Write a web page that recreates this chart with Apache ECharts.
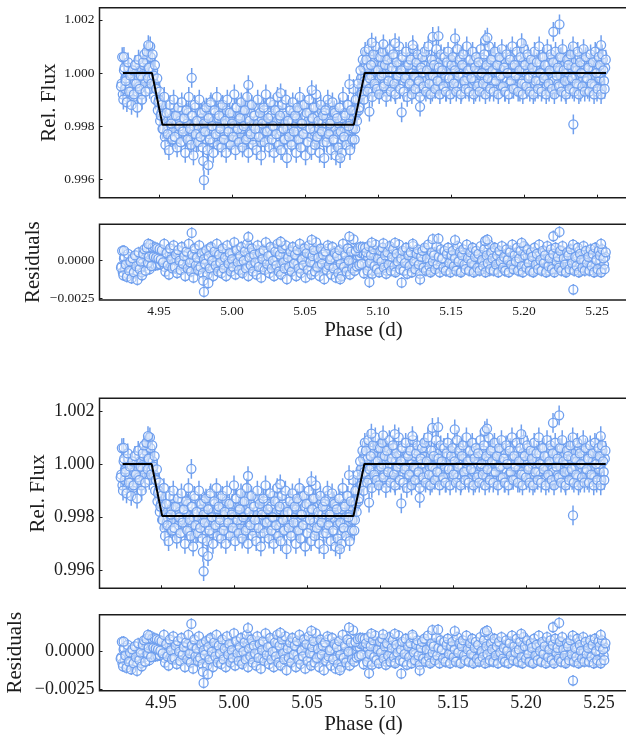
<!DOCTYPE html>
<html><head><meta charset="utf-8">
<style>html,body{margin:0;padding:0;background:#fff}#c{width:626px;height:736px}</style>
<script src="https://cdn.jsdelivr.net/npm/echarts@6/dist/echarts.min.js"></script>
</head><body><div id="c"></div>
<script>
const phase=[
4.9240,4.9248,4.9256,4.9264,4.9272,4.9280,4.9288,4.9296,4.9304,4.9312,
4.9320,4.9328,4.9336,4.9344,4.9352,4.9360,4.9368,4.9376,4.9384,4.9392,
4.9400,4.9408,4.9416,4.9424,4.9432,4.9440,4.9448,
4.9456,4.9464,4.9472,4.9480,4.9488,4.9496,4.9504,4.9512,4.9520,
4.9528,4.9536,4.9544,4.9552,4.9560,4.9568,4.9576,4.9584,4.9592,4.9600,
4.9608,4.9616,4.9624,4.9632,4.9640,4.9648,4.9656,4.9664,4.9672,4.9680,
4.9688,4.9696,4.9704,4.9712,4.9720,4.9728,4.9736,4.9744,4.9752,4.9760,
4.9768,4.9776,4.9784,4.9792,4.9800,4.9808,4.9816,4.9824,4.9832,4.9840,
4.9848,4.9856,4.9864,4.9872,4.9880,4.9888,4.9896,4.9904,4.9912,4.9920,
4.9928,4.9936,4.9944,4.9952,4.9960,4.9968,4.9976,4.9984,4.9992,5.0000,
5.0008,5.0016,5.0024,5.0032,5.0040,5.0048,5.0056,5.0064,5.0072,5.0080,
5.0088,5.0096,5.0104,5.0112,5.0120,5.0128,5.0136,5.0144,5.0152,5.0160,
5.0168,5.0176,5.0184,5.0192,5.0200,5.0208,5.0216,5.0224,5.0232,5.0240,
5.0248,5.0256,5.0264,5.0272,5.0280,5.0288,5.0296,5.0304,5.0312,5.0320,
5.0328,5.0336,5.0344,5.0352,5.0360,5.0368,5.0376,5.0384,5.0392,5.0400,
5.0408,5.0416,5.0424,5.0432,5.0440,5.0448,5.0456,5.0464,5.0472,5.0480,
5.0488,5.0496,5.0504,5.0512,5.0520,5.0528,5.0536,5.0544,5.0552,5.0560,
5.0568,5.0576,5.0584,5.0592,5.0600,5.0608,5.0616,5.0624,5.0632,5.0640,
5.0648,5.0656,5.0664,5.0672,5.0680,5.0688,5.0696,5.0704,5.0712,5.0720,
5.0728,5.0736,5.0744,5.0752,5.0760,5.0768,5.0776,5.0784,5.0792,5.0800,
5.0808,5.0816,5.0824,5.0832,
5.0840,5.0848,5.0856,5.0864,5.0872,5.0880,5.0888,5.0896,5.0904,5.0912,
5.0920,5.0928,5.0936,5.0944,5.0952,5.0960,5.0968,5.0976,5.0984,5.0992,
5.1000,5.1008,5.1016,5.1024,5.1032,5.1040,5.1048,5.1056,5.1064,5.1072,
5.1080,5.1088,5.1096,5.1104,5.1112,5.1120,5.1128,5.1136,5.1144,5.1152,
5.1160,5.1168,5.1176,5.1184,5.1192,5.1200,5.1208,5.1216,5.1224,5.1232,
5.1240,5.1248,5.1256,5.1264,5.1272,5.1280,5.1288,5.1296,5.1304,5.1312,
5.1320,5.1328,5.1336,5.1344,5.1352,5.1360,5.1368,5.1376,5.1384,5.1392,
5.1400,5.1408,5.1416,5.1424,5.1432,5.1440,5.1448,5.1456,5.1464,5.1472,
5.1480,5.1488,5.1496,5.1504,5.1512,5.1520,5.1528,5.1536,5.1544,5.1552,
5.1560,5.1568,5.1576,5.1584,5.1592,5.1600,5.1608,5.1616,5.1624,5.1632,
5.1640,5.1648,5.1656,5.1664,5.1672,5.1680,5.1688,5.1696,5.1704,5.1712,
5.1720,5.1728,5.1736,5.1744,5.1752,5.1760,5.1768,5.1776,5.1784,5.1792,
5.1800,5.1808,5.1816,5.1824,5.1832,5.1840,5.1848,5.1856,5.1864,5.1872,
5.1880,5.1888,5.1896,5.1904,5.1912,5.1920,5.1928,5.1936,5.1944,5.1952,
5.1960,5.1968,5.1976,5.1984,5.1992,5.2000,5.2008,5.2016,5.2024,5.2032,
5.2040,5.2048,5.2056,5.2064,5.2072,5.2080,5.2088,5.2096,5.2104,5.2112,
5.2120,5.2128,5.2136,5.2144,5.2152,5.2160,5.2168,5.2176,5.2184,5.2192,
5.2200,5.2208,5.2216,5.2224,5.2232,5.2240,5.2248,5.2256,5.2264,5.2272,
5.2280,5.2288,5.2296,5.2304,5.2312,5.2320,5.2328,5.2336,5.2344,5.2352,
5.2360,5.2368,5.2376,5.2384,5.2392,5.2400,5.2408,5.2416,5.2424,5.2432,
5.2440,5.2448,5.2456,5.2464,5.2472,5.2480,5.2488,5.2496,5.2504,5.2512,
5.2520,5.2528,5.2536,5.2544,5.2552,5.2560,
4.9724,4.9808,4.9803,4.9838,5.0112,5.0333,5.0546,5.0741,5.0804,5.0941,
5.1162,5.1288,5.1375,5.1414,5.1528,5.1734,5.1749,5.2201,5.2243,5.2338,
4.9427,4.9260,5.0957,5.1037,5.1117,5.1238,5.1984,5.2528
];
const flux=[
.9995,1.0006,.9990,1.0002,.9997,.9989,1.0004,.9993,.9999,.9988,
1.0001,.9992,1.0003,.9996,.9987,1.0005,.9994,.9999,.9990,1.0004,
1.0007,.9993,1.0008,.9998,1.0002,1.0010,.9996,
1.0007,.9999,1.0003,.9994,.9998,.9989,.9993,.9984,.9988,
.9979,.9991,.9973,.9985,.9977,.9971,.9988,.9981,.9975,.9990,
.9976,.9984,.9972,.9987,.9980,.9974,.9989,.9978,.9983,.9970,
.9986,.9975,.9991,.9979,.9973,.9984,.9969,.9988,.9977,.9982,
.9974,.9990,.9976,.9985,.9972,.9981,.9978,.9987,.9971,.9983,
.9975,.9989,.9980,.9970,.9986,.9977,.9991,.9973,.9984,.9979,
.9972,.9988,.9975,.9982,.9970,.9990,.9978,.9985,.9973,.9981,
.9976,.9992,.9971,.9987,.9979,.9974,.9983,.9989,.9972,.9980,
.9986,.9975,.9991,.9970,.9982,.9977,.9988,.9973,.9984,.9979,
.9971,.9990,.9976,.9985,.9969,.9981,.9987,.9974,.9992,.9978,
.9983,.9972,.9989,.9975,.9980,.9970,.9986,.9977,.9991,.9973,
.9984,.9971,.9988,.9979,.9975,.9990,.9968,.9982,.9976,.9986,
.9973,.9989,.9978,.9984,.9970,.9987,.9975,.9991,.9972,.9981,
.9977,.9988,.9969,.9985,.9974,.9990,.9979,.9971,.9983,.9987,
.9973,.9992,.9976,.9982,.9970,.9988,.9978,.9984,.9968,.9986,
.9974,.9990,.9977,.9981,.9971,.9989,.9975,.9985,.9969,.9983,
.9972,.9987,.9978,.9970,.9991,.9976,.9984,.9973,.9988,.9980,
.9971,.9986,.9975,.9994,
.9975,.9990,.9982,.9996,.9987,1.0001,.9992,1.0005,.9990,1.0008,
1.0005,.9993,1.0009,.9998,1.0003,.9991,1.0007,.9996,1.0010,.9994,
1.0001,.9992,1.0006,.9999,1.0008,.9995,1.0003,.9991,1.0005,.9997,
1.0009,.9993,1.0002,1.0007,.9996,.9992,1.0004,.9999,1.0010,.9994,
1.0001,1.0006,.9993,.9998,1.0008,.9991,1.0003,.9996,1.0005,.9992,
1.0009,.9999,.9994,1.0004,1.0007,.9997,.9991,1.0002,1.0006,.9995,
1.0008,.9993,1.0001,1.0010,.9996,.9992,1.0005,.9999,1.0003,.9994,
1.0009,.9997,1.0002,.9992,1.0007,1.0001,.9995,1.0006,.9993,1.0004,
1.0008,.9998,.9992,1.0003,1.0006,.9996,1.0001,.9993,1.0009,.9999,
1.0005,.9992,1.0003,1.0007,.9997,.9994,1.0010,1.0001,.9993,1.0005,
.9998,1.0008,.9992,1.0002,1.0006,.9995,1.0004,.9993,1.0009,1.0000,
.9996,1.0007,.9992,1.0003,.9998,1.0010,.9994,1.0005,1.0001,.9993,
1.0008,.9997,1.0003,.9992,1.0006,.9999,1.0009,.9995,1.0002,.9993,
1.0007,1.0000,.9992,1.0005,.9997,1.0010,.9994,1.0003,.9999,1.0008,
.9993,1.0001,1.0006,.9996,.9992,1.0009,1.0003,.9995,1.0007,.9998,
.9993,1.0005,1.0002,.9992,1.0008,.9997,1.0004,.9994,1.0010,1.0000,
.9993,1.0006,.9998,1.0003,.9992,1.0009,.9996,1.0001,1.0007,.9994,
1.0004,.9992,1.0008,.9999,1.0002,.9995,1.0006,.9993,1.0009,1.0001,
.9997,.9992,1.0005,1.0003,.9994,1.0007,.9998,1.0010,.9993,1.0002,
.9996,1.0008,.9992,1.0004,1.0000,.9995,1.0009,.9993,1.0006,.9998,
1.0002,.9993,1.0007,.9996,1.0004,.9992,1.0008,1.0000,.9994,1.0006,
1.0003,.9992,1.0007,1.0001,.9994,1.0005,
.99982,.99597,.9967,.99654,.99955,.99924,.99936,.9968,.99958,.99855,
.99852,.99873,1.00136,1.00139,1.0013,1.00124,1.00133,1.00155,1.00183,.99807,
1.00105,1.00061,1.00114,1.00108,1.00112,1.00105,1.00112,1.00105
];
const phaseB=[
4.9244,4.9252,4.9260,4.9268,4.9276,4.9284,4.9292,4.9300,4.9308,4.9316,
4.9324,4.9332,4.9340,4.9348,4.9356,4.9364,4.9372,4.9380,4.9388,4.9396,
4.9404,4.9412,4.9420,4.9428,4.9436,4.9444,4.9452,4.9460,4.9468,4.9476,
4.9484,4.9492,4.9500,4.9508,4.9516,4.9524,4.9532,4.9540,4.9548,4.9556,
4.9564,4.9572,4.9580,4.9588,4.9596,4.9604,4.9612,4.9620,4.9628,4.9636,
4.9644,4.9652,4.9660,4.9668,4.9676,4.9684,4.9692,4.9700,4.9708,4.9716,
4.9724,4.9732,4.9740,4.9748,4.9756,4.9764,4.9772,4.9780,4.9788,4.9796,
4.9804,4.9812,4.9820,4.9828,4.9836,4.9844,4.9852,4.9860,4.9868,4.9876,
4.9884,4.9892,4.9900,4.9908,4.9916,4.9924,4.9932,4.9940,4.9948,4.9956,
4.9964,4.9972,4.9980,4.9988,4.9996,5.0004,5.0012,5.0020,5.0028,5.0036,
5.0044,5.0052,5.0060,5.0068,5.0076,5.0084,5.0092,5.0100,5.0108,5.0116,
5.0124,5.0132,5.0140,5.0148,5.0156,5.0164,5.0172,5.0180,5.0188,5.0196,
5.0204,5.0212,5.0220,5.0228,5.0236,5.0244,5.0252,5.0260,5.0268,5.0276,
5.0284,5.0292,5.0300,5.0308,5.0316,5.0324,5.0332,5.0340,5.0348,5.0356,
5.0364,5.0372,5.0380,5.0388,5.0396,5.0404,5.0412,5.0420,5.0428,5.0436,
5.0444,5.0452,5.0460,5.0468,5.0476,5.0484,5.0492,5.0500,5.0508,5.0516,
5.0524,5.0532,5.0540,5.0548,5.0556,5.0564,5.0572,5.0580,5.0588,5.0596,
5.0604,5.0612,5.0620,5.0628,5.0636,5.0644,5.0652,5.0660,5.0668,5.0676,
5.0684,5.0692,5.0700,5.0708,5.0716,5.0724,5.0732,5.0740,5.0748,5.0756,
5.0764,5.0772,5.0780,5.0788,5.0796,5.0804,5.0812,5.0820,5.0828,5.0836,
5.0844,5.0852,5.0860,5.0868,5.0876,5.0884,5.0892,5.0900,5.0908,5.0916,
5.0924,5.0932,5.0940,5.0948,5.0956,5.0964,5.0972,5.0980,5.0988,5.0996,
5.1004,5.1012,5.1020,5.1028,5.1036,5.1044,5.1052,5.1060,5.1068,5.1076,
5.1084,5.1092,5.1100,5.1108,5.1116,5.1124,5.1132,5.1140,5.1148,5.1156,
5.1164,5.1172,5.1180,5.1188,5.1196,5.1204,5.1212,5.1220,5.1228,5.1236,
5.1244,5.1252,5.1260,5.1268,5.1276,5.1284,5.1292,5.1300,5.1308,5.1316,
5.1324,5.1332,5.1340,5.1348,5.1356,5.1364,5.1372,5.1380,5.1388,5.1396,
5.1404,5.1412,5.1420,5.1428,5.1436,5.1444,5.1452,5.1460,5.1468,5.1476,
5.1484,5.1492,5.1500,5.1508,5.1516,5.1524,5.1532,5.1540,5.1548,5.1556,
5.1564,5.1572,5.1580,5.1588,5.1596,5.1604,5.1612,5.1620,5.1628,5.1636,
5.1644,5.1652,5.1660,5.1668,5.1676,5.1684,5.1692,5.1700,5.1708,5.1716,
5.1724,5.1732,5.1740,5.1748,5.1756,5.1764,5.1772,5.1780,5.1788,5.1796,
5.1804,5.1812,5.1820,5.1828,5.1836,5.1844,5.1852,5.1860,5.1868,5.1876,
5.1884,5.1892,5.1900,5.1908,5.1916,5.1924,5.1932,5.1940,5.1948,5.1956,
5.1964,5.1972,5.1980,5.1988,5.1996,5.2004,5.2012,5.2020,5.2028,5.2036,
5.2044,5.2052,5.2060,5.2068,5.2076,5.2084,5.2092,5.2100,5.2108,5.2116,
5.2124,5.2132,5.2140,5.2148,5.2156,5.2164,5.2172,5.2180,5.2188,5.2196,
5.2204,5.2212,5.2220,5.2228,5.2236,5.2244,5.2252,5.2260,5.2268,5.2276,
5.2284,5.2292,5.2300,5.2308,5.2316,5.2324,5.2332,5.2340,5.2348,5.2356,
5.2364,5.2372,5.2380,5.2388,5.2396,5.2404,5.2412,5.2420,5.2428,5.2436,
5.2444,5.2452,5.2460,5.2468,5.2476,5.2484,5.2492,5.2500,5.2508,5.2516,
5.2524,5.2532,5.2540,5.2548,5.2556
];
const fluxB=[
.9996,.9992,1.0001,.9994,.9998,.9991,1.0002,.9995,.9993,.9999,
.9991,.9997,1.0003,.9993,.9999,.9995,1.0001,.9992,.9998,1.0003,
.9996,1.0005,.9999,1.0002,.9994,1.0006,.9998,1.0001,.9996,.9990,
.9994,.9986,.9990,.9982,.9985,.9979,.9984,.9976,.9982,.9978,
.9980,.9985,.9976,.9983,.9978,.9987,.9975,.9981,.9984,.9977,
.9982,.9974,.9986,.9979,.9983,.9976,.9981,.9985,.9978,.9975,
.9984,.9977,.9980,.9987,.9974,.9982,.9979,.9985,.9976,.9983,
.9978,.9986,.9975,.9981,.9984,.9977,.9988,.9979,.9974,.9982,
.9985,.9976,.9980,.9983,.9978,.9987,.9975,.9984,.9977,.9981,
.9986,.9979,.9974,.9983,.9976,.9985,.9980,.9978,.9987,.9975,
.9982,.9984,.9977,.9979,.9986,.9974,.9981,.9983,.9976,.9988,
.9978,.9985,.9975,.9980,.9984,.9977,.9982,.9987,.9979,.9974,
.9983,.9976,.9986,.9978,.9981,.9985,.9975,.9979,.9984,.9977,
.9988,.9980,.9974,.9982,.9986,.9976,.9983,.9978,.9985,.9975,
.9981,.9984,.9979,.9977,.9987,.9974,.9982,.9985,.9976,.9980,
.9983,.9978,.9986,.9975,.9981,.9988,.9977,.9984,.9979,.9974,
.9982,.9985,.9976,.9983,.9980,.9978,.9987,.9975,.9984,.9979,
.9977,.9986,.9981,.9974,.9985,.9983,.9976,.9988,.9978,.9980,
.9982,.9975,.9986,.9979,.9984,.9977,.9981,.9987,.9974,.9983,
.9976,.9985,.9980,.9978,.9988,.9975,.9982,.9984,.9979,.9986,
.9979,.9985,.9990,.9986,.9994,.9998,.9993,1.0002,.9997,1.0003,
.9996,1.0002,.9994,1.0005,.9999,.9993,1.0004,.9997,1.0001,.9995,
1.0006,.9998,.9994,1.0003,1.0000,.9996,1.0005,.9993,.9999,1.0002,
.9995,1.0004,.9997,1.0006,.9993,1.0001,.9998,1.0003,.9994,1.0000,
1.0005,.9996,.9993,1.0002,.9999,1.0004,.9995,1.0006,.9997,1.0001,
.9994,1.0003,.9998,1.0005,.9996,.9993,1.0002,1.0000,.9995,1.0004,
.9997,1.0006,.9994,1.0001,.9999,1.0003,.9993,.9996,1.0005,.9998,
1.0002,.9995,1.0004,.9997,1.0000,.9994,1.0006,.9999,.9993,1.0003,
.9996,1.0001,1.0005,.9998,.9994,1.0002,.9997,1.0004,.9995,1.0000,
1.0006,.9993,.9999,1.0003,.9996,1.0005,.9998,.9994,1.0001,1.0002,
.9995,1.0004,.9997,.9993,1.0006,1.0000,.9996,1.0003,.9999,.9994,
1.0005,.9998,1.0002,.9995,1.0001,.9993,1.0004,.9997,1.0006,.9996,
1.0000,.9994,1.0003,.9999,1.0005,.9995,.9998,1.0002,.9993,1.0004,
.9997,1.0001,.9996,1.0006,.9994,1.0003,.9999,1.0000,.9995,1.0005,
.9998,.9993,1.0002,.9997,1.0004,.9996,1.0001,.9994,1.0006,.9999,
1.0003,.9995,1.0000,1.0005,.9993,.9998,1.0002,.9997,1.0004,.9996,
.9994,1.0001,1.0006,.9999,.9995,1.0003,.9993,1.0000,1.0005,.9998,
.9997,1.0002,.9994,1.0004,.9996,1.0001,.9999,1.0006,.9995,1.0003,
.9993,1.0000,.9998,1.0005,.9997,1.0002,.9994,1.0004,.9996,.9999,
1.0001,.9995,1.0006,.9993,1.0003,.9998,1.0000,1.0005,.9997,.9994,
1.0002,.9996,1.0004,.9999,1.0001,.9995,1.0006,.9993,1.0003,.9998,
1.0000,.9994,1.0005,.9997,1.0002
];
const modelPhase=[4.9253,4.9452,4.9524,5.0834,5.0909,5.2562];
const modelFlux=[1,1,.99805,.99805,1,1];
const fluxErr=0.00037;
const xTicks=[4.95,5.00,5.05,5.10,5.15,5.20,5.25];
const fluxTicks=[0.996,0.998,1.000,1.002];
const residTicks=[-0.0025,0];
const lowerPhaseShift=-0.0016;

const allPhase=phaseB.concat(phase), allFlux=fluxB.concat(flux);
const modelAt=p=>{
  for(let i=1;i<modelPhase.length;i++){
    if(p<=modelPhase[i]){const t=(p-modelPhase[i-1])/(modelPhase[i]-modelPhase[i-1]);
      return modelFlux[i-1]+t*(modelFlux[i]-modelFlux[i-1]);}
  }
  return 1;
};
const ink='#1c1c1c', ring='#6f9fee', serif='"Liberation Serif","Times New Roman",serif';
const panels=[
 {top:7.7,h:190,xMin:4.90925,xMax:5.27089,yMin:.995312,yMax:1.002455,kind:'flux',shift:0,tf:13.5,name:'Rel. Flux',gap:39.5,xLab:false},
 {top:224.3,h:75.7,xMin:4.90925,xMax:5.27089,yMin:-.00261,yMax:.00233,kind:'res',shift:0,tf:13.5,name:'Residuals',gap:55.5,xLab:true,xf:13.5,xm:4,ng:20},
 {top:398.3,h:190,xMin:4.90788,xMax:5.26952,yMin:.99533,yMax:1.00247,kind:'flux',shift:lowerPhaseShift,tf:18,name:'Rel. Flux',gap:51,xLab:false},
 {top:614.7,h:76,xMin:4.90788,xMax:5.26952,yMin:-.00259,yMax:.00237,kind:'res',shift:lowerPhaseShift,tf:18,name:'Residuals',gap:73.5,xLab:true,xf:18,xm:4,ng:23}
];
const grid=[],xAxis=[],yAxis=[],series=[];
panels.forEach((P,i)=>{
  grid.push({show:true,left:99.5,top:P.top,width:528,height:P.h,borderColor:ink,borderWidth:1.5,backgroundColor:'#fff',outerBoundsMode:'none',containLabel:false});
  xAxis.push({type:'value',gridIndex:i,min:P.xMin,max:P.xMax,splitLine:{show:false},axisLine:{show:false},
    axisTick:{show:true,inside:true,length:3,customValues:xTicks,lineStyle:{color:ink,width:1}},
    axisLabel:{show:P.xLab,customValues:xTicks,formatter:v=>v.toFixed(2),fontFamily:serif,fontSize:P.xf||13,color:ink,margin:P.xm||4},
    name:P.xLab?'Phase (d)':'',nameLocation:'middle',nameGap:P.ng||18,nameMoveOverlap:false,nameTextStyle:{fontFamily:serif,fontSize:21,color:ink}});
  const yt=P.kind==='flux'?fluxTicks:residTicks;
  yAxis.push({type:'value',gridIndex:i,min:P.yMin,max:P.yMax,splitLine:{show:false},axisLine:{show:false},
    axisTick:{show:true,inside:true,length:3,customValues:yt,lineStyle:{color:ink,width:1}},
    axisLabel:{customValues:yt,fontFamily:serif,fontSize:P.tf,color:ink,margin:5,
      formatter:v=>P.kind==='flux'?v.toFixed(3):(v<0?'\u2212':'')+Math.abs(v).toFixed(4)},
    name:P.name,nameLocation:'middle',nameGap:P.gap,nameRotate:90,nameMoveOverlap:false,nameTextStyle:{fontFamily:serif,fontSize:21,color:ink}});
  const pts=allPhase.map((p,k)=>[p+P.shift,P.kind==='flux'?allFlux[k]:allFlux[k]-modelAt(p)]);
  series.push({type:'custom',xAxisIndex:i,yAxisIndex:i,data:pts,silent:true,clip:true,z:2,
    encode:{x:0,y:1},
    renderItem:(params,api)=>{
      const x=api.value(0),y=api.value(1),a=api.coord([x,y-fluxErr]),b=api.coord([x,y+fluxErr]);
      return {type:'line',shape:{x1:a[0],y1:a[1],x2:b[0],y2:b[1]},style:{stroke:ring,lineWidth:1.5}};
    }});
  series.push({type:'scatter',xAxisIndex:i,yAxisIndex:i,data:pts,symbol:'circle',symbolSize:9,silent:true,z:3,large:false,
    itemStyle:{color:'rgba(255,255,255,0.4)',borderColor:ring,borderWidth:1.3,opacity:1}});
  if(P.kind==='flux'){
    series.push({type:'line',xAxisIndex:i,yAxisIndex:i,data:modelPhase.map((p,k)=>[p+P.shift,modelFlux[k]]),
      symbol:'none',silent:true,z:5,lineStyle:{color:'#000',width:2}});
  }
});
const chart=echarts.init(document.getElementById('c'),null,{renderer:'canvas'});
chart.setOption({animation:false,backgroundColor:'#fff',grid,xAxis,yAxis,series});
</script></body></html>
